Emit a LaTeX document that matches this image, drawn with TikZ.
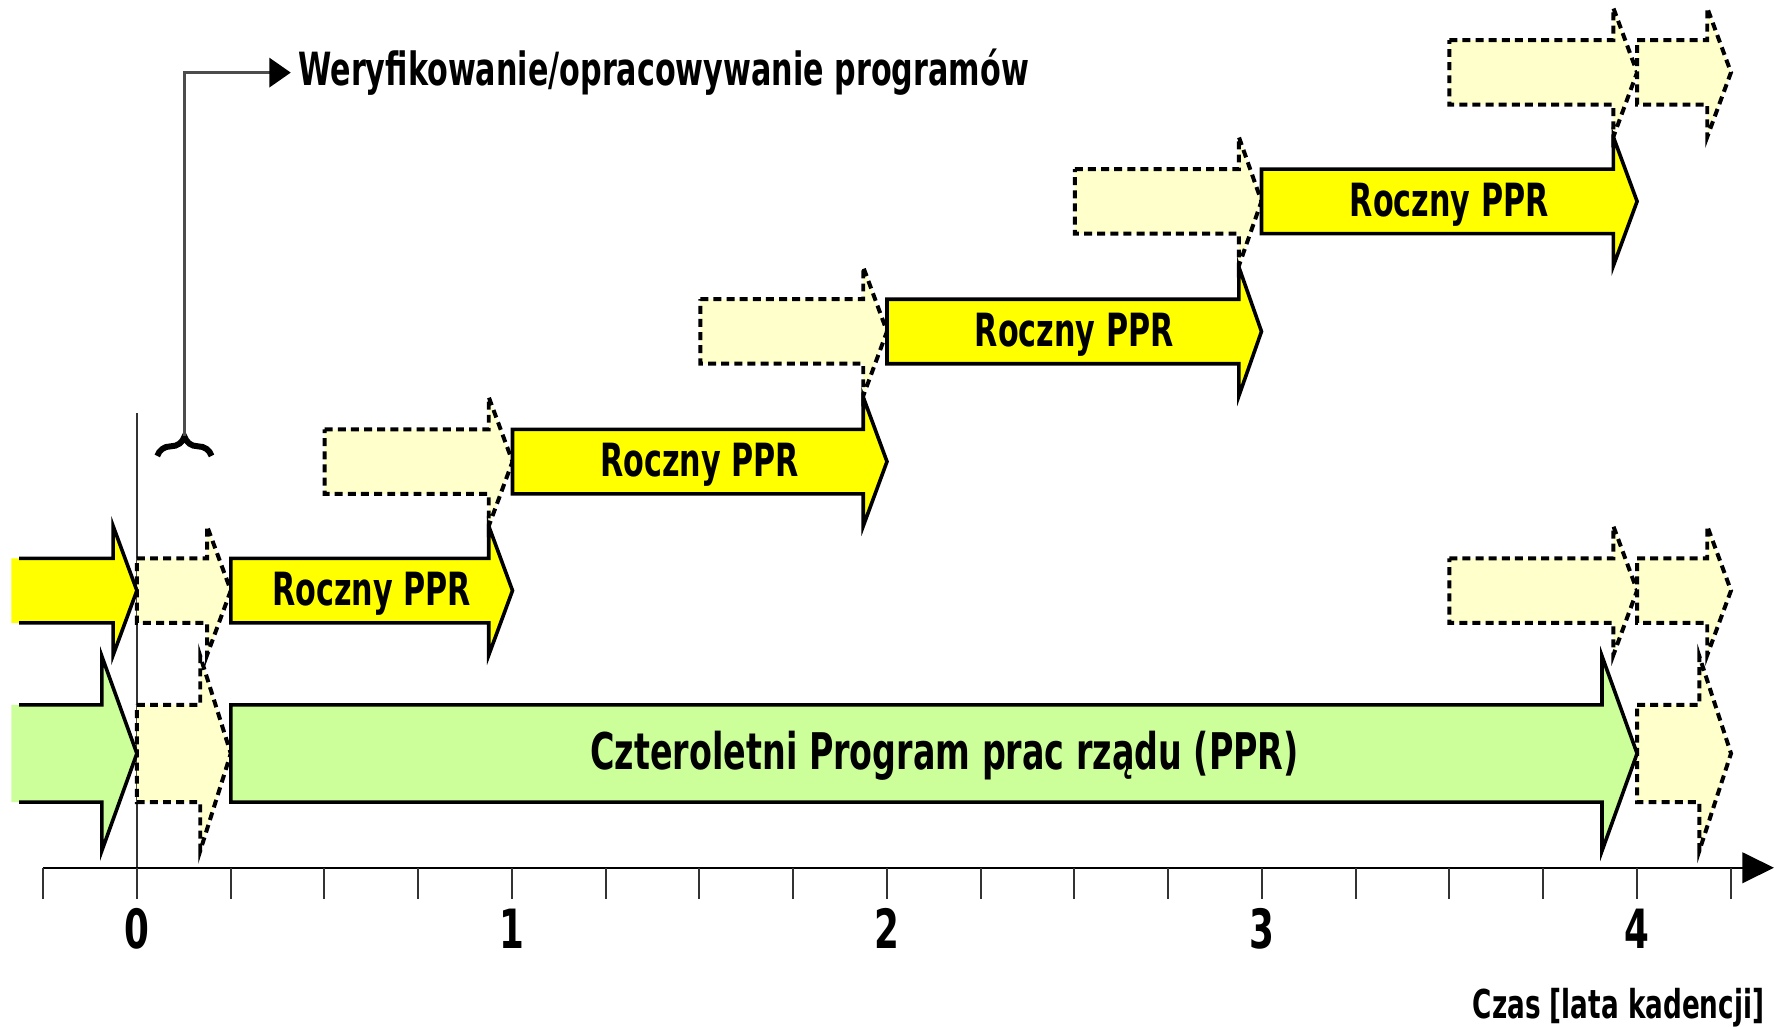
\documentclass[tikz,border=0pt]{standalone}
\usepackage{fontspec}
\setmainfont{DejaVu Sans}[FakeStretch=0.66]
\usepackage{tikz}
\usetikzlibrary{arrows.meta,decorations.pathreplacing}
\definecolor{zolty}{RGB}{255,255,0}
\definecolor{jasny}{RGB}{255,255,204}
\definecolor{zielony}{RGB}{204,255,153}
\pgfkeys{tikz/pelny/.style={draw=black, line width=0.9pt, line join=miter}}
\pgfkeys{tikz/kreska/.style={draw=black, fill=jasny, line width=1pt,
                                 dash pattern=on 2pt off 1.3pt}}
\pgfkeys{tikz/napis/.style={inner sep=0pt, anchor=base,
                                font=\bfseries\fontsize{11.5}{13}\selectfont}}
\pgfkeys{tikz/cyfra/.style={inner sep=0pt, anchor=base,
                                font=\bfseries\fontsize{13.6}{15}\selectfont}}
% strzalka: styl, poczatek, nasada grotu, czubek, srodek, pol trzonu, pol grotu
\newcommand{\strzalka}[7]{%
  \path[#1] (#2,#5-#6) -- (#3,#5-#6) -- (#3,#5-#7) -- (#4,#5)
    -- (#3,#5+#7) -- (#3,#5+#6) -- (#2,#5+#6) -- cycle;}
% urwana strzalka z lewej (bez lewego brzegu)
\newcommand{\urwana}[7]{%
  \fill[#1] (#2,#5-#6) -- (#3,#5-#6) -- (#3,#5-#7) -- (#4,#5)
    -- (#3,#5+#7) -- (#3,#5+#6) -- (#2,#5+#6) -- cycle;
  \draw[pelny] (#2+7,#5-#6) -- (#3,#5-#6) -- (#3,#5-#7) -- (#4,#5)
    -- (#3,#5+#7) -- (#3,#5+#6) -- (#2+7,#5+#6);}

\begin{document}
\begin{tikzpicture}[x=0.01cm, y=-0.01cm]
            \useasboundingbox (0,0) rectangle (1568,907);

            \draw[line width=0.5pt, black!80] (121,365) -- (121,767);

            % weryfikowanie
            \strzalka{kreska}{121}{183}{204}{522}{28.5}{57}
            \strzalka{kreska}{121}{177}{204}{666}{43}{86}
            \strzalka{kreska}{287}{432}{453}{408}{28.5}{57}
            \strzalka{kreska}{619}{763}{784}{293}{28.5}{57}
            \strzalka{kreska}{950}{1095}{1115}{178}{28.5}{57}
            \strzalka{kreska}{1281}{1426}{1447}{64}{28.5}{57}
            \strzalka{kreska}{1447}{1509}{1530}{64}{28.5}{57}
            \strzalka{kreska}{1281}{1426}{1447}{522}{28.5}{57}
            \strzalka{kreska}{1447}{1509}{1530}{522}{28.5}{57}
            \strzalka{kreska}{1447}{1502}{1530}{666}{43}{86}

            % programy
            \urwana{zolty}{10}{100}{121}{522}{28.5}{57}
            \urwana{zielony}{10}{90}{121}{666}{43}{86}
            \strzalka{pelny,fill=zolty}{204}{432}{453}{522}{28.5}{57}
            \strzalka{pelny,fill=zolty}{453}{763}{784}{408}{28.5}{57}
            \strzalka{pelny,fill=zolty}{784}{1095}{1115}{293}{28.5}{57}
            \strzalka{pelny,fill=zolty}{1115}{1426}{1447}{178}{28.5}{57}
            \strzalka{pelny,fill=zielony}{204}{1416}{1447}{666}{43}{86}

            \node[napis] (r1) at (328.5,535) {Roczny PPR};
            \node[napis] (r2) at (618.5,421) {Roczny PPR};
            \node[napis] (r3) at (949.5,306) {Roczny PPR};
            \node[napis] (r4) at (1281,191) {Roczny PPR};
            \node[napis, font=\bfseries\fontsize{12.7}{15}\selectfont] (cppr) at (835,680.5)
                {Czteroletni Program prac rządu (PPR)};

            % klamra i opis
            \draw[line width=1.5pt, decorate, decoration={brace, amplitude=0.17cm}]
                (139,403) -- (187,403);
            \coordinate (klamra) at (163,385);
            \node[napis, anchor=base west] (tytul) at (263,76)
                {Weryfikowanie/opracowywanie programów};
            \draw[line width=0.6pt, black!70,
                  -{Triangle[length=0.19cm, width=0.26cm, color=black]}]
                (klamra) |- ([xshift=-0.06cm]tytul.west);

            % os czasu
            \coordinate (os0) at (38,767);
            \coordinate (os1) at (1568,767);
            \draw[line width=0.6pt, -{Triangle[length=0.28cm, width=0.27cm]}] (os0) -- (os1);
            \foreach \k in {0,...,18}
                \draw[line width=0.5pt, black!80] (38+\k*82.875,767) -- ++(0,28);
            \foreach \r in {0,...,4}
                \node[cyfra] (t\r) at (121+331.5*\r,838) {\r};
            \node[napis, anchor=base east, font=\bfseries\fontsize{10}{12}\selectfont]
                (czas) at (1560,900) {Czas [lata kadencji]};
\end{tikzpicture}
\end{document}
